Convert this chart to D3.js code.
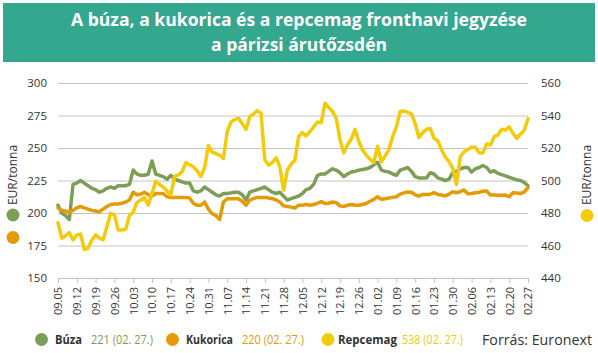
<!DOCTYPE html>
<html>
<head>
<meta charset="utf-8">
<script src="https://cdn.jsdelivr.net/npm/d3@7"></script>
<style>
  html, body { margin: 0; padding: 0; background: #fff; }
  svg { display: block; }
  text { font-family: "Open Sans", sans-serif; }
</style>
</head>
<body>
<svg id="chart" width="598" height="353"></svg>
<script>
// ---- data ----
const tickLabels = ["09.05","09.12","09.19","09.26","10.03","10.10","10.17","10.24","10.31","11.07","11.14","11.21","11.28",
  "12.05","12.12","12.19","12.26","01.02","01.09","01.16","01.23","01.30","02.06","02.13","02.20","02.27"];
const daysPerWeek = 5;

const buza = [206,200,198,195,222,223,225,223,221,219,
218,216,217,219,220,219,221,221,221,222,
233,230,229,229,230,240,230,229,228,226,
229,226,225,224,223,223,217,216,217,220,
218,216,214,213,215,215,215.5,216,216,214,
210,216,217,218,219,220,218,216,215,216,
213,210,211,212,213,215,218,219,222,229,
230,230,232,234,233,231,228,230,231.5,232,
233,233.5,234,235,237,239,233,232,231.5,230,
229,233,234,235,232,228,227,227,227,231,
230,227,226,225,226,231,232,234,235,235,
231.5,234,235,236.5,235,231.5,232.5,230.5,229.5,228.5,
227.5,226.5,225.5,225,223.5,221];

const kukorica = [204,202,201.5,200.5,202,204,205,204,203,202,
201.5,201,203,205,206.5,207,207,207.5,208.5,210,
216,214,214.5,216,214,213,215,215,215,212.5,
212,212,212,212,212,211.5,207.5,206,206,208.5,
203,199.5,198,195,208.5,211,211,211,211,209,
206,210,211,212,212,212,211.5,211,210,208.5,
205.5,205,204.5,203.8,206,206,206.5,206,206.5,207.5,
208.7,207.4,207.5,208.5,208,205.5,205,206,206.5,206,
206,206.5,207.5,209,210.5,212.5,210.5,211,211.5,212,
212.5,214.5,215.5,216.2,216,214,213,214.3,214.3,214.5,
215.6,214.3,213.8,213.2,214.5,216.4,215.6,216.5,217.7,214.8,
215,215.6,216,216.7,217,213.8,213.8,213.6,213.6,213.8,
212.5,215.6,215.4,215,216,219.5];

const repcemag = [474,464.5,466,468,463.4,466.5,467,457.5,458.3,463.4,
466.5,464.5,463.5,471.6,479.8,479,469.5,469.5,470,478.5,
480.5,486.5,488,489.5,485,492,499.5,497.5,496,493.5,
491,502.5,503.5,505.4,511,509.7,508.5,506,502.5,508,
521.5,517.5,516.5,515.5,513.6,530,536,537.5,538.3,535,
531.5,539.3,541,543,541.3,512.6,509.5,511,514,508.5,
494,506.5,510,512.5,527,529.5,527.5,530,533,536,
535.5,547.5,545,542.5,538.3,525,517,522,525.5,531.5,
524,518.8,515.5,513,511,521,511.6,515,519,527,
533,542.5,542.8,542,541,535,526.5,529.5,531.5,532,
526,524.5,519,514.5,511.5,507.5,497.5,514.7,517.7,519,
520.5,520.5,517,517,522.5,521.8,527,528,531.5,531,
533,529,526,528.5,531,538];

const leftTicks = [150,175,200,225,250,275,300];
const rightTicks = [440,460,480,500,520,540,560];

const seriesNames = ["Búza","Kukorica","Repcemag"];
const lastLabels = ["221 (02. 27.)","220 (02. 27.)","538 (02. 27.)"];

// ---- drawing ----
const colors = { buza: "#7c9f55", kukorica: "#e49b06", repcemag: "#f3cb0c" };
const svg = d3.select("#chart");

// title banner
svg.append("rect").attr("x", 3).attr("y", 3).attr("width", 592).attr("height", 59).attr("fill", "#34a78f");
svg.append("text").attr("x", 299).attr("y", 26).attr("text-anchor", "middle")
  .attr("fill", "#fff").attr("font-weight", 700).attr("font-size", 17)
  .attr("textLength", 456).attr("lengthAdjust", "spacingAndGlyphs")
  .text("A búza, a kukorica és a repcemag fronthavi jegyzése");
svg.append("text").attr("x", 299).attr("y", 51).attr("text-anchor", "middle")
  .attr("fill", "#fff").attr("font-weight", 700).attr("font-size", 17)
  .attr("textLength", 176).attr("lengthAdjust", "spacingAndGlyphs")
  .text("a párizsi árutőzsdén");

const x0 = 58, x1 = 528, yTop = 83, yBot = 278;
const nDays = (tickLabels.length - 1) * daysPerWeek;
const x = d3.scaleLinear().domain([0, nDays]).range([x0, x1]);
const yL = d3.scaleLinear().domain([150, 300]).range([yBot, yTop]);
const yR = d3.scaleLinear().domain([440, 560]).range([yBot, yTop]);

// left axis + grid
const gL = svg.append("g").attr("transform", `translate(${x0},0)`)
  .call(d3.axisLeft(yL).tickValues(leftTicks).tickSize(-(x1 - x0)).tickPadding(11));
gL.select(".domain").remove();
gL.selectAll(".tick line").attr("stroke", "#c4c4c4").attr("stroke-width", 1);
gL.selectAll(".tick text").attr("fill", "#333").attr("font-size", 11.5)
  .attr("font-family", "Open Sans, sans-serif");

// right axis
const gR = svg.append("g").attr("transform", `translate(${x1},0)`)
  .call(d3.axisRight(yR).tickValues(rightTicks).tickSize(0).tickPadding(13));
gR.select(".domain").remove();
gR.selectAll(".tick text").attr("fill", "#333").attr("font-size", 11.5)
  .attr("font-family", "Open Sans, sans-serif");

// bottom axis
const tickIdx = tickLabels.map((d, i) => i * daysPerWeek);
const gB = svg.append("g").attr("transform", `translate(0,${yBot})`)
  .call(d3.axisBottom(x).tickValues(tickIdx).tickSize(5).tickFormat((d, i) => tickLabels[i]));
gB.select(".domain").remove();
gB.selectAll(".tick line").attr("stroke", "#c4c4c4");
gB.selectAll(".tick text").attr("fill", "#333").attr("font-size", 11)
  .attr("font-family", "Open Sans, sans-serif")
  .attr("transform", "rotate(-90)").attr("text-anchor", "end")
  .attr("x", -9).attr("y", 0).attr("dy", "0.35em");

// lines
const lineL = d3.line().x((d, i) => x(i)).y(d => yL(d));
const lineR = d3.line().x((d, i) => x(i)).y(d => yR(d));
const drawLine = (data, gen, col) => svg.append("path").datum(data)
  .attr("d", gen).attr("fill", "none").attr("stroke", col).attr("stroke-width", 3.5)
  .attr("stroke-linejoin", "round").attr("stroke-linecap", "round");
drawLine(buza, lineL, colors.buza);
drawLine(kukorica, lineL, colors.kukorica);
drawLine(repcemag, lineR, colors.repcemag);

// axis titles
svg.append("text").attr("transform", "translate(17,175) rotate(-90)").attr("text-anchor", "middle")
  .attr("fill", "#333").attr("font-size", 12).text("EUR/tonna");
svg.append("circle").attr("cx", 13).attr("cy", 215).attr("r", 6.5).attr("fill", colors.buza);
svg.append("circle").attr("cx", 13).attr("cy", 237.5).attr("r", 6.5).attr("fill", colors.kukorica);
svg.append("text").attr("transform", "translate(591,175) rotate(-90)").attr("text-anchor", "middle")
  .attr("fill", "#333").attr("font-size", 12).text("EUR/tonna");
svg.append("circle").attr("cx", 587).attr("cy", 215.5).attr("r", 6.5).attr("fill", colors.repcemag);

// legend
const legend = [
  { cx: 41.5, nameX: 55, nameW: 27, valX: 91, valW: 62, col: colors.buza },
  { cx: 172.5, nameX: 186, nameW: 47, valX: 242, valW: 62, col: colors.kukorica },
  { cx: 328, nameX: 338, nameW: 59, valX: 402, valW: 61, col: colors.repcemag }
];
legend.forEach((l, i) => {
  svg.append("circle").attr("cx", l.cx).attr("cy", 339.5).attr("r", 6.5).attr("fill", l.col);
  svg.append("text").attr("x", l.nameX).attr("y", 344).attr("font-size", 12).attr("font-weight", 700)
    .attr("fill", "#333").attr("textLength", l.nameW).attr("lengthAdjust", "spacingAndGlyphs").text(seriesNames[i]);
  svg.append("text").attr("x", l.valX).attr("y", 344).attr("font-size", 12)
    .attr("fill", l.col).attr("textLength", l.valW).attr("lengthAdjust", "spacingAndGlyphs").text(lastLabels[i]);
});
svg.append("text").attr("x", 482).attr("y", 345).attr("font-size", 15).attr("fill", "#333")
  .attr("textLength", 110).attr("lengthAdjust", "spacingAndGlyphs").text("Forrás: Euronext");
</script>
</body>
</html>
